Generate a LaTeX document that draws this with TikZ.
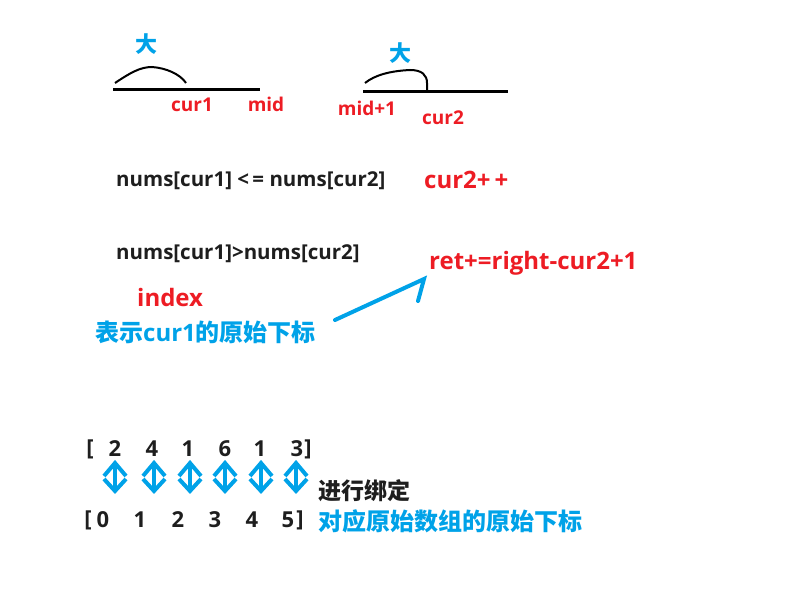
\documentclass[tikz,border=0pt]{standalone}
\usepackage{fontspec}
\setmainfont{Noto Sans CJK SC}
\newfontfamily\lat{Open Sans}
\definecolor{pred}{RGB}{237,28,36}
\definecolor{pblue}{RGB}{0,162,232}
\definecolor{pblack}{RGB}{30,30,30}
\begin{document}
\begin{tikzpicture}[x=1pt,y=-1pt,
  red18/.style={inner sep=0pt,text=pred,font=\lat\bfseries\fontsize{19}{19}\selectfont},
  red22/.style={inner sep=0pt,text=pred,font=\lat\bfseries\fontsize{24}{24}\selectfont},
  blk/.style={inner sep=0pt,text=pblack,font=\lat\bfseries\fontsize{20.5}{21}\selectfont},
  num/.style={inner sep=0pt,text=pblack,font=\lat\bfseries\fontsize{22}{22}\selectfont},
  blue/.style={inner sep=0pt,text=pblue,font=\bfseries\fontsize{24}{24}\selectfont},
  barline/.style={line width=3pt,black},
  curve/.style={line width=2pt,black},
  dbl/.style={pblue,line width=4pt,line join=miter,line cap=butt},
  bluearrow/.style={pblue,line width=4pt,line cap=round}]
\useasboundingbox (0,0) rectangle (800,599);
% top segments
\coordinate (l1a) at (113,90); \coordinate (l1b) at (260,90);
\draw[barline] (l1a) -- (l1b);
\draw[curve] (115,83) .. controls (130,73) and (140,67) .. (152,67) .. controls (166,68) and (180,74) .. (186,83);
\node[blue,font=\bfseries\fontsize{22}{22}\selectfont] (da1) at (146,44) {大};
\node[red18] (cur1) at (192,105) {cur1};
\node[red18] (mid) at (266,104) {mid};
\coordinate (l2a) at (363,92); \coordinate (l2b) at (508,92);
\draw[barline] (l2a) -- (l2b);
\draw[curve] (365,83) .. controls (375,75) and (390,71) .. (410,70) .. controls (422,70) and (427,75) .. (427,83) -- (427,91);
\node[blue,font=\bfseries\fontsize{22}{22}\selectfont] (da2) at (400,53) {大};
\node[red18] (midp) at (367,108) {mid+1};
\node[red18] (cur2) at (443,118) {cur2};
% conditions
\node[blk,anchor=west] (c1) at (116,181) {nums[cur1] <\,= nums[cur2]};
\node[red22,anchor=west] (inc) at (424,180) {cur2+\,+};
\node[blk,anchor=west] (c2) at (116,254) {nums[cur1]>nums[cur2]};
\node[red22,anchor=west] (ret) at (429,263) {ret+=right-cur2+1};
\node[red22,anchor=west] (idx) at (137,297) {index};
\node[blue,anchor=west] (desc) at (95,332) {表示{\lat\bfseries\fontsize{24}{24}\selectfont cur1}的原始下标};
\coordinate (arS) at (335,320);
\coordinate (arE) at (424,279);
\draw[bluearrow] (arS) -- (arE) -- (418,301);
% arrays
\node[num] (lb1) at (90,449) {[};
\node[num] (v0) at (115,449) {2};
\node[num] (v1) at (152,449) {4};
\node[num] (v2) at (188,449) {1};
\node[num] (v3) at (225,449) {6};
\node[num] (v4) at (260,449) {1};
\node[num] (v5) at (297,449) {3};
\node[num] (rb1) at (308,449) {]};
\node[num] (lb2) at (88,520) {[};
\node[num] (i0) at (103,520) {0};
\node[num] (i1) at (140,520) {1};
\node[num] (i2) at (178,520) {2};
\node[num] (i3) at (215,520) {3};
\node[num] (i4) at (252,520) {4};
\node[num] (i5) at (288,520) {5};
\node[num] (rb2) at (300,520) {]};
\foreach \x in {115,154,190,225,261,296}{
  \draw[dbl] (\x,463) -- (\x,491);
  \draw[dbl] (\x-11,476) -- (\x,463) -- (\x+11,476);
  \draw[dbl] (\x-11,479) -- (\x,491) -- (\x+11,479);
}
\node[inner sep=0pt,text=pblack,font=\bfseries\fontsize{23}{23}\selectfont,anchor=west] (bind) at (318,491) {进行绑定};
\node[blue,anchor=west] (orig) at (318,521) {对应原始数组的原始下标};
\end{tikzpicture}
\end{document}
